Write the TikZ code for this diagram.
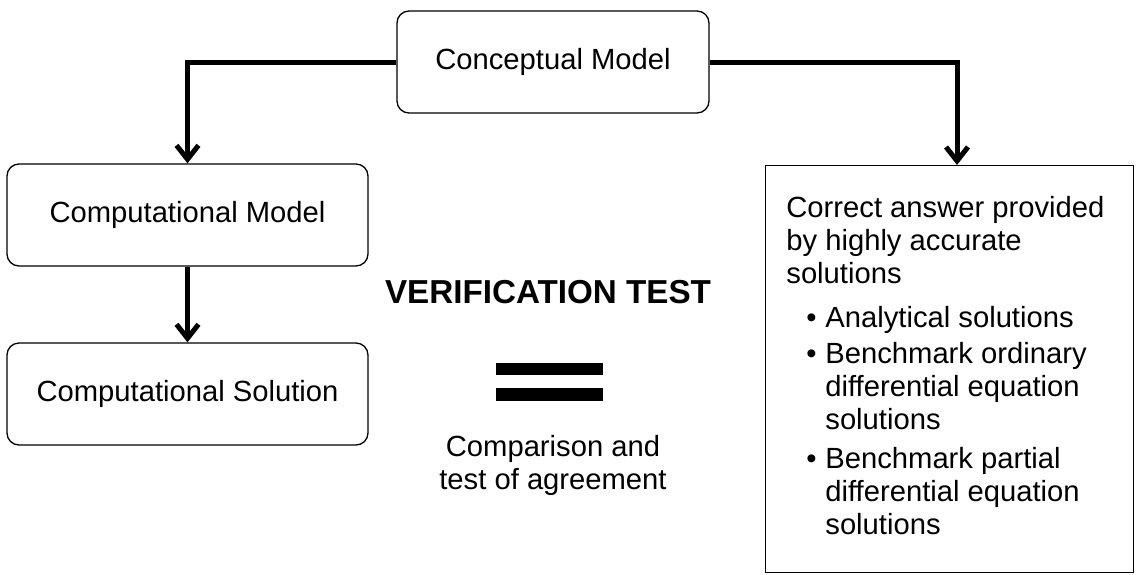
\documentclass[tikz,border=0pt]{standalone}
\usepackage{fontspec}
\setmainfont{Liberation Sans}
\usetikzlibrary{arrows.meta}
\begin{document}
\begin{tikzpicture}[x=0.5pt,y=-0.5pt,
  txt/.style={font=\fontsize{14.6pt}{16.5pt}\selectfont, inner sep=0pt},
  rbox/.style={draw, line width=0.65pt, rounded corners=6pt, minimum height=51pt, inner sep=0pt, font=\fontsize{14.6pt}{16.5pt}\selectfont},
  arr/.style={line width=2.5pt, -{Straight Barb[length=7pt,width=11pt,line width=2.5pt]}},
  bar/.style={fill=black, draw=none}]
\useasboundingbox (0,0) rectangle (1142,574);
\node[rbox, minimum width=156pt] (cm) at (553,62) {Conceptual Model};
\node[rbox, minimum width=180.5pt] (cmp) at (187.5,215) {Computational Model};
\node[rbox, minimum width=180.5pt] (cs) at (187.5,394) {Computational Solution};
\node[draw, line width=0.65pt, minimum width=184pt, minimum height=203.5pt, inner sep=0pt, anchor=north west] (rb) at (765,165) {};
\coordinate (rtip) at (957,165);
\draw[arr] (cm.west) -| (cmp.north);
\draw[arr] (cm.east) -| (rtip);
\draw[arr] (cmp.south) -- (cs.north);
\node[txt, anchor=base west] (title) at (786,217) {\parbox[t]{170pt}{\raggedright Correct answer provided\\by highly accurate\\solutions}};
\node[txt, anchor=base west] (b1) at (806,327) {\textbullet};
\node[txt, anchor=base west] (i1) at (825,327) {\parbox[t]{160pt}{\raggedright Analytical solutions}};
\node[txt, anchor=base west] (b2) at (806,363) {\textbullet};
\node[txt, anchor=base west] (i2) at (825,363) {\parbox[t]{160pt}{\raggedright Benchmark ordinary\\differential equation\\solutions}};
\node[txt, anchor=base west] (b3) at (806,468) {\textbullet};
\node[txt, anchor=base west] (i3) at (825,468) {\parbox[t]{160pt}{\raggedright Benchmark partial\\differential equation\\solutions}};
\node[txt, anchor=base, font=\fontsize{16.6pt}{18pt}\selectfont\bfseries] (vt) at (548,303) {VERIFICATION TEST};
\path[bar] (496,363) rectangle (603,375) coordinate (eq1);
\path[bar] (496,388) rectangle (603,401) coordinate (eq2);
\node[txt, anchor=base] (cmpt) at (553,456) {\parbox[t]{140pt}{\centering Comparison and\\test of agreement}};
\end{tikzpicture}
\end{document}
